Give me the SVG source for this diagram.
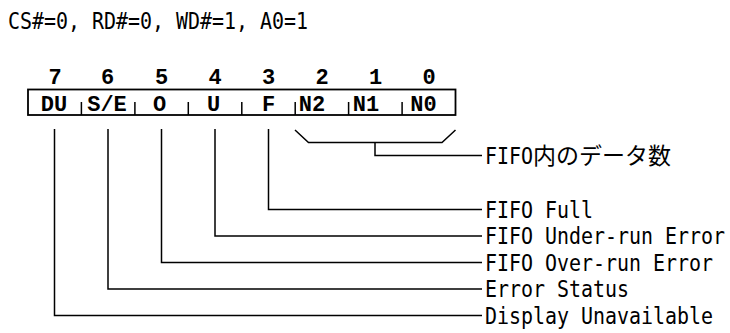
<svg xmlns="http://www.w3.org/2000/svg" width="730" height="333" viewBox="0 0 730 333">
<style>
.lbl{font-family:"DejaVu Sans Mono","Noto Sans CJK JP",monospace;font-size:20px;fill:#000}
.jp{font-family:"Noto Sans CJK JP",sans-serif;font-size:23px;fill:#000}
.bit{font-family:"Liberation Mono","Courier New",monospace;font-weight:bold;font-size:22px;fill:#000;text-anchor:middle}
.ln{fill:none;stroke:#000;stroke-width:1.5}
.box{fill:#fff;stroke:#000;stroke-width:1.8}
</style>
<g transform="translate(8,29) scale(1,1.12)"><text class="lbl" x="0" y="0" textLength="300" lengthAdjust="spacingAndGlyphs">CS#=0, RD#=0, WD#=1, A0=1</text></g>
<g id="register">
<rect class="box" x="28" y="89.5" width="427.5" height="25.5"/>
<path class="ln" d="M81.4 102V115M134.9 102V115M188.3 102V115M241.8 102V115M295.2 102V115M348.6 102V115M402.1 102V115"/>
<g id="bitnums">
<text class="bit" x="55" y="83.5">7</text>
<text class="bit" x="107.5" y="83.5">6</text>
<text class="bit" x="161.5" y="83.5">5</text>
<text class="bit" x="215" y="83.5">4</text>
<text class="bit" x="268.5" y="83.5">3</text>
<text class="bit" x="322" y="83.5">2</text>
<text class="bit" x="375.5" y="83.5">1</text>
<text class="bit" x="429" y="83.5">0</text>
</g>
<g id="bitnames">
<text class="bit" x="54" y="111">DU</text>
<text class="bit" x="107" y="111">S/E</text>
<text class="bit" x="159.5" y="111">O</text>
<text class="bit" x="213.5" y="111">U</text>
<text class="bit" x="268.5" y="111">F</text>
<text class="bit" x="312" y="111">N2</text>
<text class="bit" x="366" y="111">N1</text>
<text class="bit" x="423.5" y="111">N0</text>
</g>
</g>
<g id="connectors">
<path class="ln" d="M295 130L308.5 142.5H442L455.5 130"/>
<path class="ln" d="M375 142.5V155.5H482"/>
<path class="ln" d="M268.5 129V209.5H482"/>
<path class="ln" d="M215 129V236H482"/>
<path class="ln" d="M161.5 129V262.5H482"/>
<path class="ln" d="M108 129V289H482"/>
<path class="ln" d="M54.5 129V315.5H482"/>
</g>
<g id="label-count">
<g transform="translate(485,163.5) scale(1,1.12)"><text class="lbl" x="0" y="0" textLength="48" lengthAdjust="spacingAndGlyphs">FIFO</text></g>
<text class="jp" x="533" y="164">内のデータ数</text>
</g>
<g id="label-full" transform="translate(485,217.5) scale(1,1.12)"><text class="lbl" x="0" y="0" textLength="108" lengthAdjust="spacingAndGlyphs">FIFO Full</text></g>
<g id="label-under" transform="translate(485,244) scale(1,1.12)"><text class="lbl" x="0" y="0" textLength="240" lengthAdjust="spacingAndGlyphs">FIFO Under-run Error</text></g>
<g id="label-over" transform="translate(485,270.5) scale(1,1.12)"><text class="lbl" x="0" y="0" textLength="228" lengthAdjust="spacingAndGlyphs">FIFO Over-run Error</text></g>
<g id="label-es" transform="translate(485,297) scale(1,1.12)"><text class="lbl" x="0" y="0" textLength="144" lengthAdjust="spacingAndGlyphs">Error Status</text></g>
<g id="label-du" transform="translate(485,323.5) scale(1,1.12)"><text class="lbl" x="0" y="0" textLength="228" lengthAdjust="spacingAndGlyphs">Display Unavailable</text></g>
</svg>
